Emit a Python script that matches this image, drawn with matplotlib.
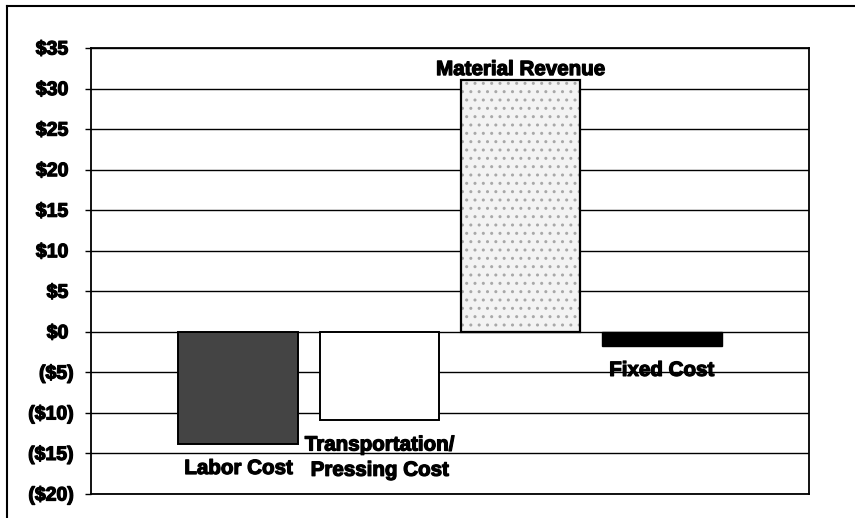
import numpy as np
import matplotlib.pyplot as plt
import matplotlib.patheffects as pe
from matplotlib.lines import Line2D

# ---------------------------------------------------------------------
# Cost / revenue breakdown
# ---------------------------------------------------------------------
categories = ['Labor Cost', 'Transportation/\nPressing Cost',
              'Material Revenue', 'Fixed Cost']
values = [-13.8, -10.9, 31.0, -1.7]
y_ticks = [35, 30, 25, 20, 15, 10, 5, 0, -5, -10, -15, -20]


def money(v):
    # accounting style: positives keep room for the closing bracket
    return f"${v:.0f} " if v >= 0 else f"(${-v:.0f})"


plt.rcParams['font.family'] = ['Liberation Sans', 'DejaVu Sans']
HEAVY = [pe.withStroke(linewidth=0.9, foreground='black')]

fig = plt.figure(figsize=(8.55, 5.18), dpi=100)
ax = fig.add_axes([91 / 855, 1 - 494 / 518, 718 / 855, 446 / 518])

x = np.arange(len(categories))
w = 0.85

# ── bars ──────────────────────────────────────────────────────────────
ax.bar(x[0], values[0], w, color='#444444', edgecolor='black', lw=1.4, zorder=3)
ax.bar(x[1], values[1], w, color='white', edgecolor='black', lw=1.4, zorder=3)
ax.bar(x[2], values[2], w, color='#f3f3f3', edgecolor='#a8a8a8', lw=0,
       hatch='..', zorder=3)
ax.bar(x[2], values[2], w, fill=False, edgecolor='black', lw=1.6, zorder=4)
ax.bar(x[3], values[3], w, color='black', edgecolor='black', lw=1.0, zorder=3)

# ── category labels next to the bars ─────────────────────────────────
LBL = dict(fontsize=14.8, fontweight='bold', ha='center', zorder=5,
           textcoords='offset points', linespacing=1.42, path_effects=HEAVY)
for xi, v, name in zip(x, values, categories):
    if v >= 0:
        ax.annotate(name, (xi, v), xytext=(0, 1), va='bottom', **LBL)
    else:
        ax.annotate(name, (xi, v), xytext=(0, -11), va='top', **LBL)

# ── axes styling ──────────────────────────────────────────────────────
ax.set_xlim(-1.045, 4.045)
ax.set_ylim(-20, 35)
ax.set_yticks(y_ticks)
ax.set_yticklabels([money(v) for v in y_ticks], fontsize=14, fontweight='bold')
for t in ax.get_yticklabels():
    t.set_path_effects(HEAVY)
ax.set_xticks([])
ax.tick_params(axis='y', direction='out', length=4.5, width=1.0, pad=8)
ax.yaxis.grid(True, color='black', lw=1.0, zorder=1)
ax.set_axisbelow(True)
for s in ax.spines.values():
    s.set_color('black')
    s.set_linewidth(1.3)

# outer frame, clipped by the page on right and bottom
fig.add_artist(Line2D([7 / 855, 1.0], [1 - 6 / 518] * 2, color='black', lw=1.5))
fig.add_artist(Line2D([7 / 855] * 2, [0.0, 1 - 6 / 518], color='black', lw=1.5))

fig.savefig('out.png', dpi=100)
